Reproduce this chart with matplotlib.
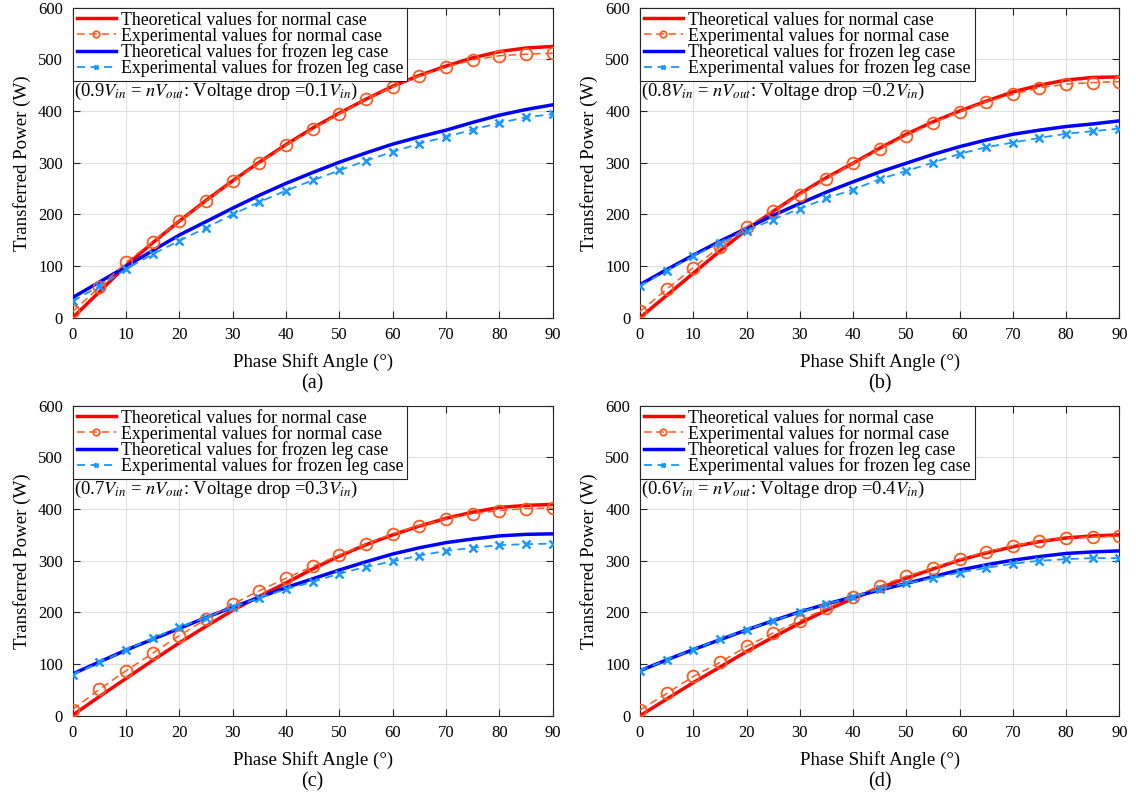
import matplotlib
matplotlib.use("Agg")
import matplotlib.pyplot as plt
import numpy as np

plt.rcParams['font.family'] = ['Liberation Serif', 'DejaVu Serif']
plt.rcParams['mathtext.fontset'] = 'stix'

angles = [0, 5, 10, 15, 20, 25, 30, 35, 40, 45, 50, 55, 60, 65, 70, 75, 80, 85, 90]
theory_angles = [0, 5, 10, 15, 20, 25, 30, 35, 40, 45, 50, 55, 60, 65, 70, 75, 80, 85, 90]

# Panel (a)
a_th_normal = [0, 50, 101, 145, 187, 227, 265, 301, 335, 367, 396, 423, 448, 469, 487, 503, 515, 522, 525]
a_ex_normal = [12, 59, 107, 147, 187, 226, 264, 300, 334, 365, 395, 423, 447, 468, 485, 499, 507, 510, 512]
a_th_frozen = [39, 69, 99, 130, 160, 186, 212, 237, 260, 281, 301, 319, 336, 350, 363, 378, 392, 403, 412]
a_ex_frozen = [32, 61, 94, 123, 149, 174, 200, 224, 246, 266, 285, 304, 321, 337, 350, 364, 377, 388, 394]

# Panel (b)
b_th_normal = [0, 43, 86, 129, 170, 206, 240, 271, 299, 328, 355, 379, 400, 419, 437, 450, 460, 465, 466]
b_ex_normal = [12, 55, 97, 137, 176, 207, 238, 269, 299, 326, 352, 377, 399, 418, 432, 445, 452, 455, 457]
b_th_frozen = [64, 93, 121, 148, 173, 198, 221, 243, 263, 282, 299, 316, 331, 344, 355, 363, 370, 375, 381]
b_ex_frozen = [61, 91, 119, 145, 168, 190, 211, 231, 248, 268, 284, 300, 317, 330, 339, 348, 356, 361, 366]

# Panel (c)
c_th_normal = [1, 37, 72, 107, 141, 173, 204, 231, 257, 284, 309, 331, 350, 367, 382, 394, 403, 407, 409]
c_ex_normal = [12, 51, 87, 121, 155, 187, 216, 242, 266, 289, 311, 332, 352, 368, 381, 391, 397, 401, 402]
c_th_frozen = [81, 104, 127, 148, 169, 190, 210, 229, 248, 265, 282, 298, 313, 325, 335, 342, 348, 351, 352]
c_ex_frozen = [79, 103, 127, 150, 171, 190, 210, 228, 245, 259, 275, 288, 299, 310, 319, 325, 330, 332, 333]

# Panel (d)
d_th_normal = [0, 32, 64, 94, 124, 152, 179, 204, 227, 247, 266, 284, 301, 315, 327, 337, 344, 348, 350]
d_ex_normal = [11, 43, 76, 103, 134, 160, 184, 208, 230, 251, 270, 286, 303, 317, 329, 338, 344, 346, 347]
d_th_frozen = [87, 108, 128, 147, 166, 184, 201, 216, 230, 243, 256, 269, 282, 292, 301, 308, 314, 317, 319]
d_ex_frozen = [87, 108, 128, 148, 166, 184, 200, 216, 230, 245, 256, 266, 277, 286, 294, 300, 303, 305, 305]

panels = [
    ("(a)", "0.9", "0.1", a_th_normal, a_ex_normal, a_th_frozen, a_ex_frozen),
    ("(b)", "0.8", "0.2", b_th_normal, b_ex_normal, b_th_frozen, b_ex_frozen),
    ("(c)", "0.7", "0.3", c_th_normal, c_ex_normal, c_th_frozen, c_ex_frozen),
    ("(d)", "0.6", "0.4", d_th_normal, d_ex_normal, d_th_frozen, d_ex_frozen),
]

xticks = [0, 10, 20, 30, 40, 50, 60, 70, 80, 90]
yticks = [0, 100, 200, 300, 400, 500, 600]

W, H = 1136, 797
fig = plt.figure(figsize=(W / 100, H / 100), dpi=100)

rects = [
    (72.7, 7.7, 552.7, 317.7),
    (640.0, 7.7, 1119.3, 317.7),
    (72.7, 405.7, 552.7, 715.7),
    (640.0, 405.7, 1119.3, 715.7),
]

red = '#ff0000'
orange = '#ff5a1e'
blue = '#0000ff'
lblue = '#1a96ff'

for (lab, ratio, drop, thn, exn, thf, exf), (x0, y0, x1, y1) in zip(panels, rects):
    ax = fig.add_axes([x0 / W, 1 - y1 / H, (x1 - x0) / W, (y1 - y0) / H])
    ax.plot(theory_angles, thn, color=red, lw=2.5, label='Theoretical values for normal case', zorder=3)
    ax.plot(angles, exn, color=orange, lw=1.1, ls=(0, (5, 3)), marker='o', ms=8.5,
            mfc='none', mec=orange, mew=1.3, label='Experimental values for normal case', zorder=4)
    ax.plot(theory_angles, thf, color=blue, lw=2.5, label='Theoretical values for frozen leg case', zorder=3)
    ax.plot(angles, exf, color=lblue, lw=1.3, ls=(0, (4.5, 3)), marker='x', ms=6,
            mec=lblue, mew=1.8, label='Experimental values for frozen leg case', zorder=4)
    ax.set_xlim(0, 90)
    ax.set_ylim(0, 600)
    ax.set_xticks(xticks)
    ax.set_yticks(yticks)
    ax.tick_params(direction='in', top=True, right=True, labelsize=12, length=5, width=0.8,
                   colors='#262626', labelcolor='black', pad=7)
    ax.grid(True, color='#e0e0e0', lw=0.8)
    ax.set_axisbelow(True)
    for s in ax.spines.values():
        s.set_color('#262626')
        s.set_linewidth(0.8)
    ax.set_xlabel('Phase Shift Angle (°)', fontsize=13.6, labelpad=7)
    ax.set_ylabel('Transferred Power (W)', fontsize=13.6, labelpad=5)
    leg = ax.legend(loc='upper left', fontsize=12.8, frameon=True, fancybox=False,
                    edgecolor='#262626', framealpha=1, borderaxespad=0, borderpad=0.22,
                    labelspacing=-0.1, handlelength=2.2, handletextpad=0.3, markerscale=0.55)
    leg.get_frame().set_linewidth(0.8)
    ax.text(0.003, 0.714,
            '(' + ratio + r'$V_{in}$ = $nV_{out}$: Voltage drop =' + drop + r'$V_{in}$)',
            transform=ax.transAxes, fontsize=13.3, ha='left', va='baseline', zorder=6)
    fig.text((x0 + x1) / 2 / W, 1 - (y1 + 66) / H, lab, fontsize=14.5, ha='center', va='center')

fig.savefig('out.png', dpi=100)
